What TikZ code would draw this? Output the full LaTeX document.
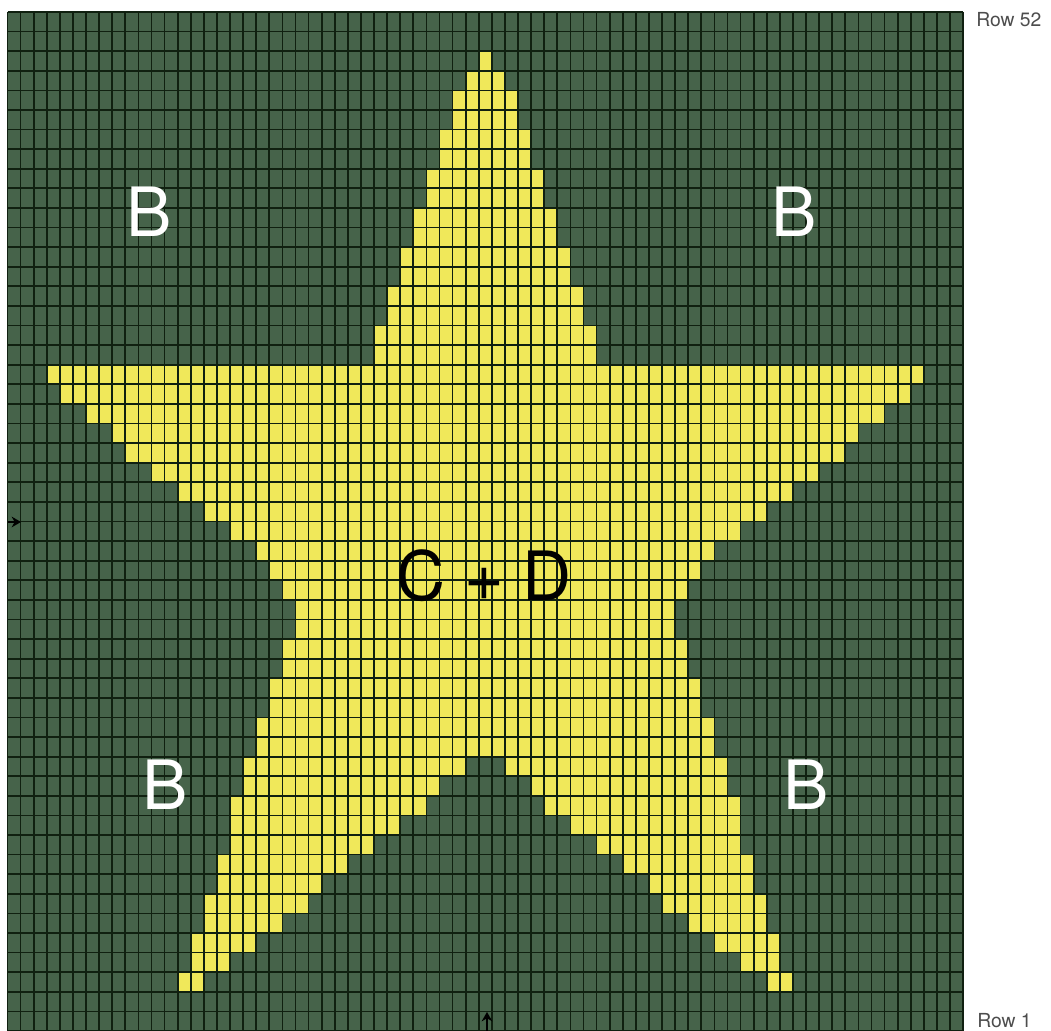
\documentclass[tikz,border=0pt]{standalone}
\usepackage{fontspec}
\setmainfont{TeX Gyre Heros}
\usetikzlibrary{arrows.meta}
\definecolor{bgreen}{HTML}{46634A}
\definecolor{syellow}{HTML}{F0E85A}
\definecolor{gline}{HTML}{102010}
\definecolor{rowgray}{HTML}{4D4D4D}
\tikzset{
  gridline/.style={draw=gline, line width=1.3pt},
  starcell/.style={fill=syellow},
  biglabel/.style={font=\fontsize{51}{51}\selectfont, inner sep=0pt},
  rowlabel/.style={font=\fontsize{14.5}{14.5}\selectfont, text=rowgray, anchor=west, inner sep=0pt},
  marker/.style={draw=black, line width=2pt, -{Stealth[length=7pt,width=8pt]}}
}
\begin{document}
\begin{tikzpicture}[x=0.75pt, y=0.75pt]
\useasboundingbox (0,0) rectangle (1051,1031);
\fill[white] (0,0) rectangle (1051,1031);
\begin{scope}[xshift=5.625pt, yshift=764.25pt, x=9.8185pt, y=-14.697pt]
  \fill[bgreen] (0,0) rectangle (73,52);
  \foreach \t/\a/\b in {2/36/36, 3/35/37, 4/34/38, 5/34/38, 6/33/39, 7/33/39,
    8/32/40, 9/32/40, 10/31/41, 11/31/41, 12/30/42, 13/30/42, 14/29/43, 15/29/43,
    16/28/44, 17/28/44, 18/3/69, 19/4/68, 20/6/66, 21/8/64, 22/9/63, 23/11/61,
    24/13/59, 25/15/57, 26/17/55, 27/19/53, 28/20/52, 29/21/51, 30/22/50, 31/22/50,
    32/21/51, 33/21/51, 34/20/52, 35/20/52, 36/19/53, 37/19/53,
    38/18/34, 38/38/54, 39/18/32, 39/40/54, 40/17/31, 40/41/55, 41/17/29, 41/43/55,
    42/17/27, 42/45/55, 43/16/25, 43/47/56, 44/16/23, 44/49/56, 45/15/22, 45/50/57,
    46/15/20, 46/52/57, 47/14/18, 47/54/58, 48/14/16, 48/56/58, 49/13/14, 49/58/59}
    \fill[starcell] (\a,\t) rectangle (\b+1,\t+1);
  \foreach \i in {0,...,73} \draw[gridline] (\i,0) -- (\i,52);
  \foreach \j in {0,...,52} \draw[gridline] (0,\j) -- (73,\j);
\end{scope}
% labels
\node[biglabel, text=white] (b1) at (149,819) {B};
\node[biglabel, text=white] (b2) at (794,819) {B};
\node[biglabel, text=white] (b3) at (165,246) {B};
\node[biglabel, text=white] (b4) at (806,246) {B};
\node[biglabel, text=black] (cd) at (484,455) {C + D};
\node[rowlabel] (r52) at (976,1011) {Row 52};
\node[rowlabel] (r1) at (977,10) {Row 1};
% small markers
\coordinate (ma1) at (8,509);
\coordinate (ma2) at (21,509);
\draw[marker] (ma1) -- (ma2);
\coordinate (mb1) at (487,0);
\coordinate (mb2) at (487,19);
\draw[marker] (mb1) -- (mb2);
\end{tikzpicture}
\end{document}
